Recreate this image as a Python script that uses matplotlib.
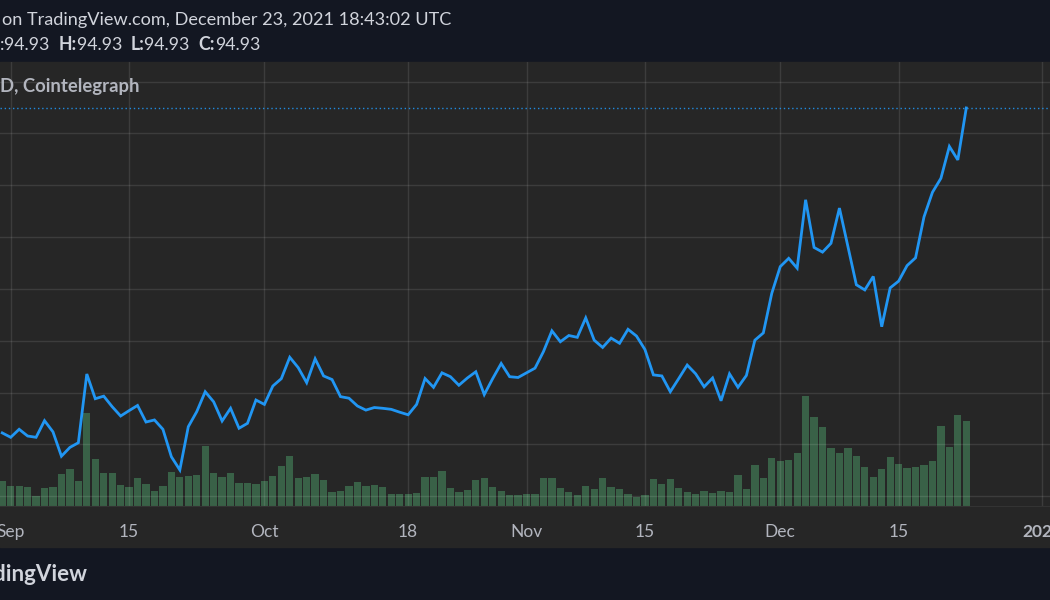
import matplotlib
matplotlib.use("Agg")
import matplotlib.pyplot as plt
import matplotlib.dates as mdates
import pandas as pd
from matplotlib.patches import Rectangle

# daily closes and volume, Aug 31 .. Dec 23 2021
dates = pd.date_range("2021-08-31", "2021-12-23", freq="D")
close = [
    32.2, 31.35, 32.9, 31.6, 31.35, 34.56, 32.4, 27.7, 29.4, 30.3,
    43.57, 38.8, 39.3, 37.26, 35.46, 36.5, 37.5, 34.3, 34.7, 32.9,
    27.6, 25.05, 33.4, 36.3, 40.15, 38.2, 34.5, 36.95, 33.1, 34.05,
    38.55,
    37.7, 41.25, 42.67, 46.8, 44.8, 41.9, 46.5, 43.2, 42.5, 39.2,
    38.9, 37.4, 36.6, 37.1, 36.95, 36.75, 36.2, 35.7, 37.7, 42.7,
    41.0, 43.8, 43.05, 41.4, 42.8, 44.0, 39.6, 42.7, 45.6, 43.05,
    42.9,
    43.8, 44.7, 47.9, 51.9, 49.8, 51.0, 50.65, 54.4, 50.1, 48.7,
    50.5, 49.5, 52.2, 50.9, 48.3, 43.4, 43.2, 40.15, 42.7, 45.3,
    43.6, 41.1, 42.8, 38.4, 43.6, 41.0, 43.3, 50.1, 51.5, 59.15,
    64.3, 65.9, 64.0, 77.2, 68.0, 67.1, 68.8, 75.6, 68.2, 60.8,
    59.8, 62.4, 52.7, 60.2, 61.5, 64.5, 66.0, 73.9, 78.65, 81.35,
    87.5, 84.9, 94.93,
]
volume = [
    25.3, 20, 20, 18.7, 10, 17.7, 18.7, 32, 36.7, 25.3,
    93.3, 46.7, 33.3, 33.3, 21, 18.7, 27.7, 22, 15.3, 20,
    34.3, 29.3, 30, 31, 60.3, 33.3, 29, 33.3, 23.3, 23.3,
    22,
    25.3, 30, 40.3, 50.3, 28, 29, 32.3, 25.7, 14.3, 15.3,
    20.3, 24.3, 20.3, 21.3, 19, 12, 12, 12.3, 13.3, 29.3,
    29.3, 34.7, 17.7, 14.3, 15.7, 25.7, 28, 18.7, 15.3, 11,
    11,
    12, 12, 27.7, 27.7, 17.7, 14.3, 11, 20, 16.7, 27.7,
    18.7, 16.7, 12, 9.3, 10.7, 26.7, 22, 26.7, 17.7, 14.3,
    12, 15.3, 13.3, 15.3, 14.3, 31.3, 16.7, 41.5, 27.7, 48.2,
    45, 46, 52.7, 110, 88.7, 78.7, 58.3, 52.7, 58.3, 50.3,
    39.3, 29, 37, 49.3, 42.3, 38, 39.3, 41.3, 44.7, 80,
    59.3, 91, 85.3,
]

tick_dates = ["2021-09-01", "2021-09-15", "2021-10-01", "2021-10-18", "2021-11-01",
              "2021-11-15", "2021-12-01", "2021-12-15", "2022-01-01"]
tick_labels = ["Sep", "15", "Oct", "18", "Nov", "15", "Dec", "15", "2022"]
price_grid = [20, 30, 40, 50, 60, 70, 80, 90, 100]

NAVY = "#131722"
PANEL = "#262626"
TXT = "#d1d4dc"
MUTED = "#b2b5be"
BLUE = "#2196f3"

W, H = 1050, 600
fig = plt.figure(figsize=(W / 100, H / 100), dpi=100, facecolor=NAVY)
plt.rcParams["font.family"] = ["Lato", "DejaVu Sans"]

# gray chart panel (plot + time axis strip)
fig.patches.append(Rectangle((0, (H - 547) / H), 1, (547 - 62) / H,
                             transform=fig.transFigure, color=PANEL, zorder=0))

rect = [0, (H - 506) / H, 1, (506 - 62) / H]
ax_vol = fig.add_axes(rect, zorder=1)
ax = fig.add_axes(rect, zorder=2, sharex=ax_vol)

x = mdates.date2num(dates)
ax_vol.set_facecolor(PANEL)
ax_vol.bar(x, volume, width=0.86, color="#3f7050", alpha=0.8, linewidth=0)
ax_vol.set_ylim(0, 444)
ax_vol.set_yticks([])

ax.patch.set_visible(False)
ax.plot(x, close, color=BLUE, lw=2.0, solid_joinstyle="miter", zorder=3)
ax.axhline(close[-1], color=BLUE, lw=1.0, ls=(0, (1, 2)), alpha=0.9, zorder=2)

sep1 = mdates.date2num(pd.Timestamp("2021-09-01"))
ax.set_xlim(sep1 - 1.265, sep1 + 122.9)
ax.set_ylim(18.09, 103.8)

ax.set_yticks(price_grid)
ax.set_xticks(mdates.date2num(pd.to_datetime(tick_dates)))
ax.set_xticklabels(tick_labels)
ax.grid(True, color="white", alpha=0.1, lw=1)
ax.tick_params(axis="y", length=0, labelleft=False)
ax.tick_params(axis="x", length=0, pad=13, labelsize=12.5, labelcolor=MUTED)
ax.get_xticklabels()[-1].set_fontweight("bold")
ax_vol.tick_params(axis="x", length=0, labelbottom=False)

for a in (ax, ax_vol):
    for s in a.spines.values():
        s.set_visible(False)
ax.spines["bottom"].set_visible(True)
ax.spines["bottom"].set_color("#333333")

# header lines
fig.text(2 / W, 1 - 25 / H, "on TradingView.com, December 23, 2021 18:43:02 UTC",
         color=TXT, fontsize=13.1, va="baseline", ha="left")

renderer = fig.canvas.get_renderer()
ohlc = [(":", False), ("94.93 ", False), ("H:", True), ("94.93 ", False),
        ("L:", True), ("94.93 ", False), ("C:", True), ("94.93", False)]
xpos = 0
for piece, bold in ohlc:
    t = fig.text(xpos / W, 1 - 50 / H, piece, color=TXT, fontsize=12.8,
                 fontweight="bold" if bold else "normal", va="baseline", ha="left")
    bb = t.get_window_extent(renderer)
    xpos += bb.width
    if piece.endswith(" "):
        xpos += 4

fig.text(0 / W, 1 - 92 / H, "D, Cointelegraph", color=MUTED, fontsize=13.3,
         fontweight="bold", va="baseline", ha="left")

# footer logo text (cut at the left edge like the screenshot)
fig.text(88 / W, 1 - 581 / H, "TradingView", color=TXT, fontsize=16,
         fontweight="bold", va="baseline", ha="right")

fig.savefig("out.png", dpi=100, facecolor=NAVY)
